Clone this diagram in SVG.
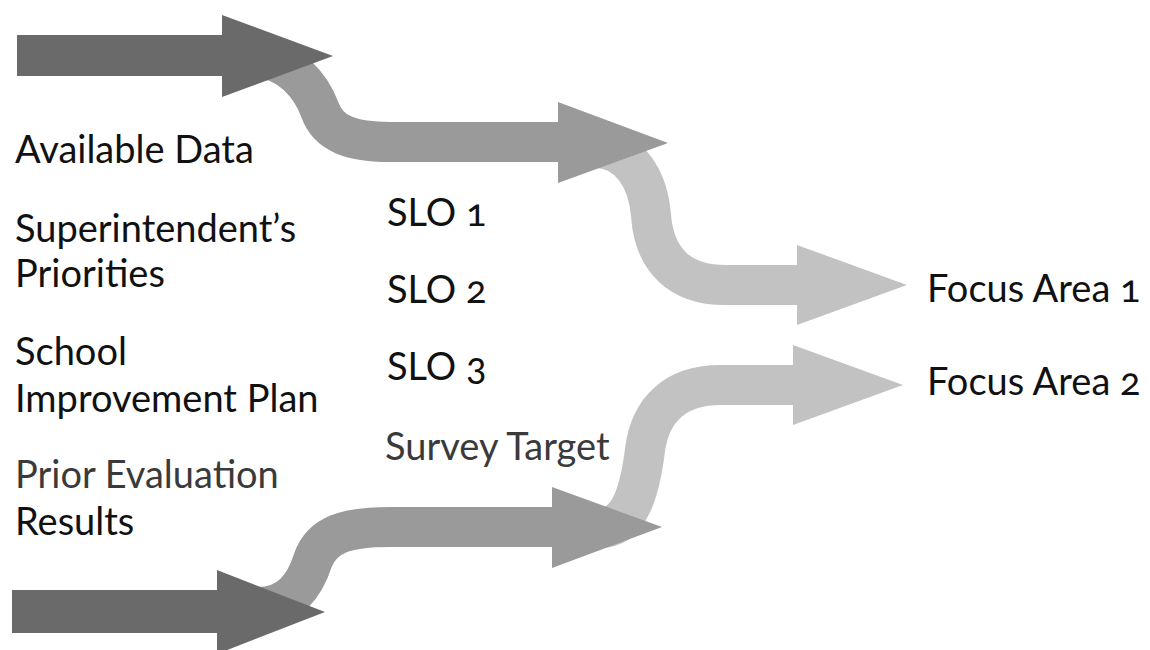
<svg xmlns="http://www.w3.org/2000/svg" width="1150" height="650" viewBox="0 0 1150 650">
  <style>
    .lbl { font-family: Lato, "Open Sans", "Liberation Sans", sans-serif; font-size: 38px; fill: #111; font-variant-numeric: oldstyle-nums; }
    .soft { fill: #3a3a3a; }
    .band { fill: none; stroke-linecap: butt; stroke-width: 40; }
    .dark { fill: #6a6a6a; }
    .mid { fill: #9a9a9a; }
    .midS { stroke: #9a9a9a; }
    .light { fill: #c2c2c2; }
    .lightS { stroke: #c2c2c2; }
  </style>
  <rect width="1150" height="650" fill="#ffffff"/>

  <g id="connectors">
    <g id="arrow-light-top">
      <path class="band lightS" d="M 595 148 C 630 148, 648 180, 651 215 C 654 260, 680 285, 725 285 L 800 285"/>
      <polygon class="light" points="797,245 907,285 797,325"/>
    </g>
    <g id="arrow-light-bottom">
      <path class="band lightS" d="M 600 528 C 630 528, 640 490, 645 450 C 650 410, 675 385, 720 385 L 796 385"/>
      <polygon class="light" points="793,345 903,385 793,425"/>
    </g>
    <g id="arrow-mid-top">
      <path class="band midS" d="M 255 58 C 290 58, 312 88, 320 110 C 328 133, 350 142, 390 142 L 561 142"/>
      <polygon class="mid" points="558,102 668,143 558,183"/>
    </g>
    <g id="arrow-mid-bottom">
      <path class="band midS" d="M 258 607 C 290 607, 305 585, 313 560 C 322 535, 345 527, 390 527 L 555 527"/>
      <polygon class="mid" points="552,487 662,527 552,568"/>
    </g>
    <g id="arrow-dark-top">
      <polygon class="dark" points="17,35 222,35 222,15 333,56 222,97 222,76 17,76"/>
    </g>
    <g id="arrow-dark-bottom">
      <polygon class="dark" points="12,590 217,590 217,570 325,612 217,654 217,633 12,633"/>
    </g>
  </g>

  <g id="node-available-data"><text class="lbl" x="15" y="163">Available Data</text></g>
  <g id="node-superintendent"><text class="lbl" x="15" y="242">Superintendent’s</text><text class="lbl" x="15" y="287">Priorities</text></g>
  <g id="node-school-plan"><text class="lbl" x="15" y="365">School</text><text class="lbl" x="15" y="412">Improvement Plan</text></g>
  <g id="node-prior-eval"><text class="lbl soft" x="15" y="488">Prior Evaluation</text><text class="lbl" x="15" y="535">Results</text></g>

  <g id="node-slo1"><text class="lbl" x="387" y="226">SLO 1</text></g>
  <g id="node-slo2"><text class="lbl" x="387" y="303">SLO 2</text></g>
  <g id="node-slo3"><text class="lbl" x="387" y="380">SLO 3</text></g>
  <g id="node-survey"><text class="lbl soft" x="385" y="460">Survey Target</text></g>

  <g id="node-focus1"><text class="lbl" x="927" y="302">Focus Area 1</text></g>
  <g id="node-focus2"><text class="lbl" x="927" y="395">Focus Area 2</text></g>
</svg>
